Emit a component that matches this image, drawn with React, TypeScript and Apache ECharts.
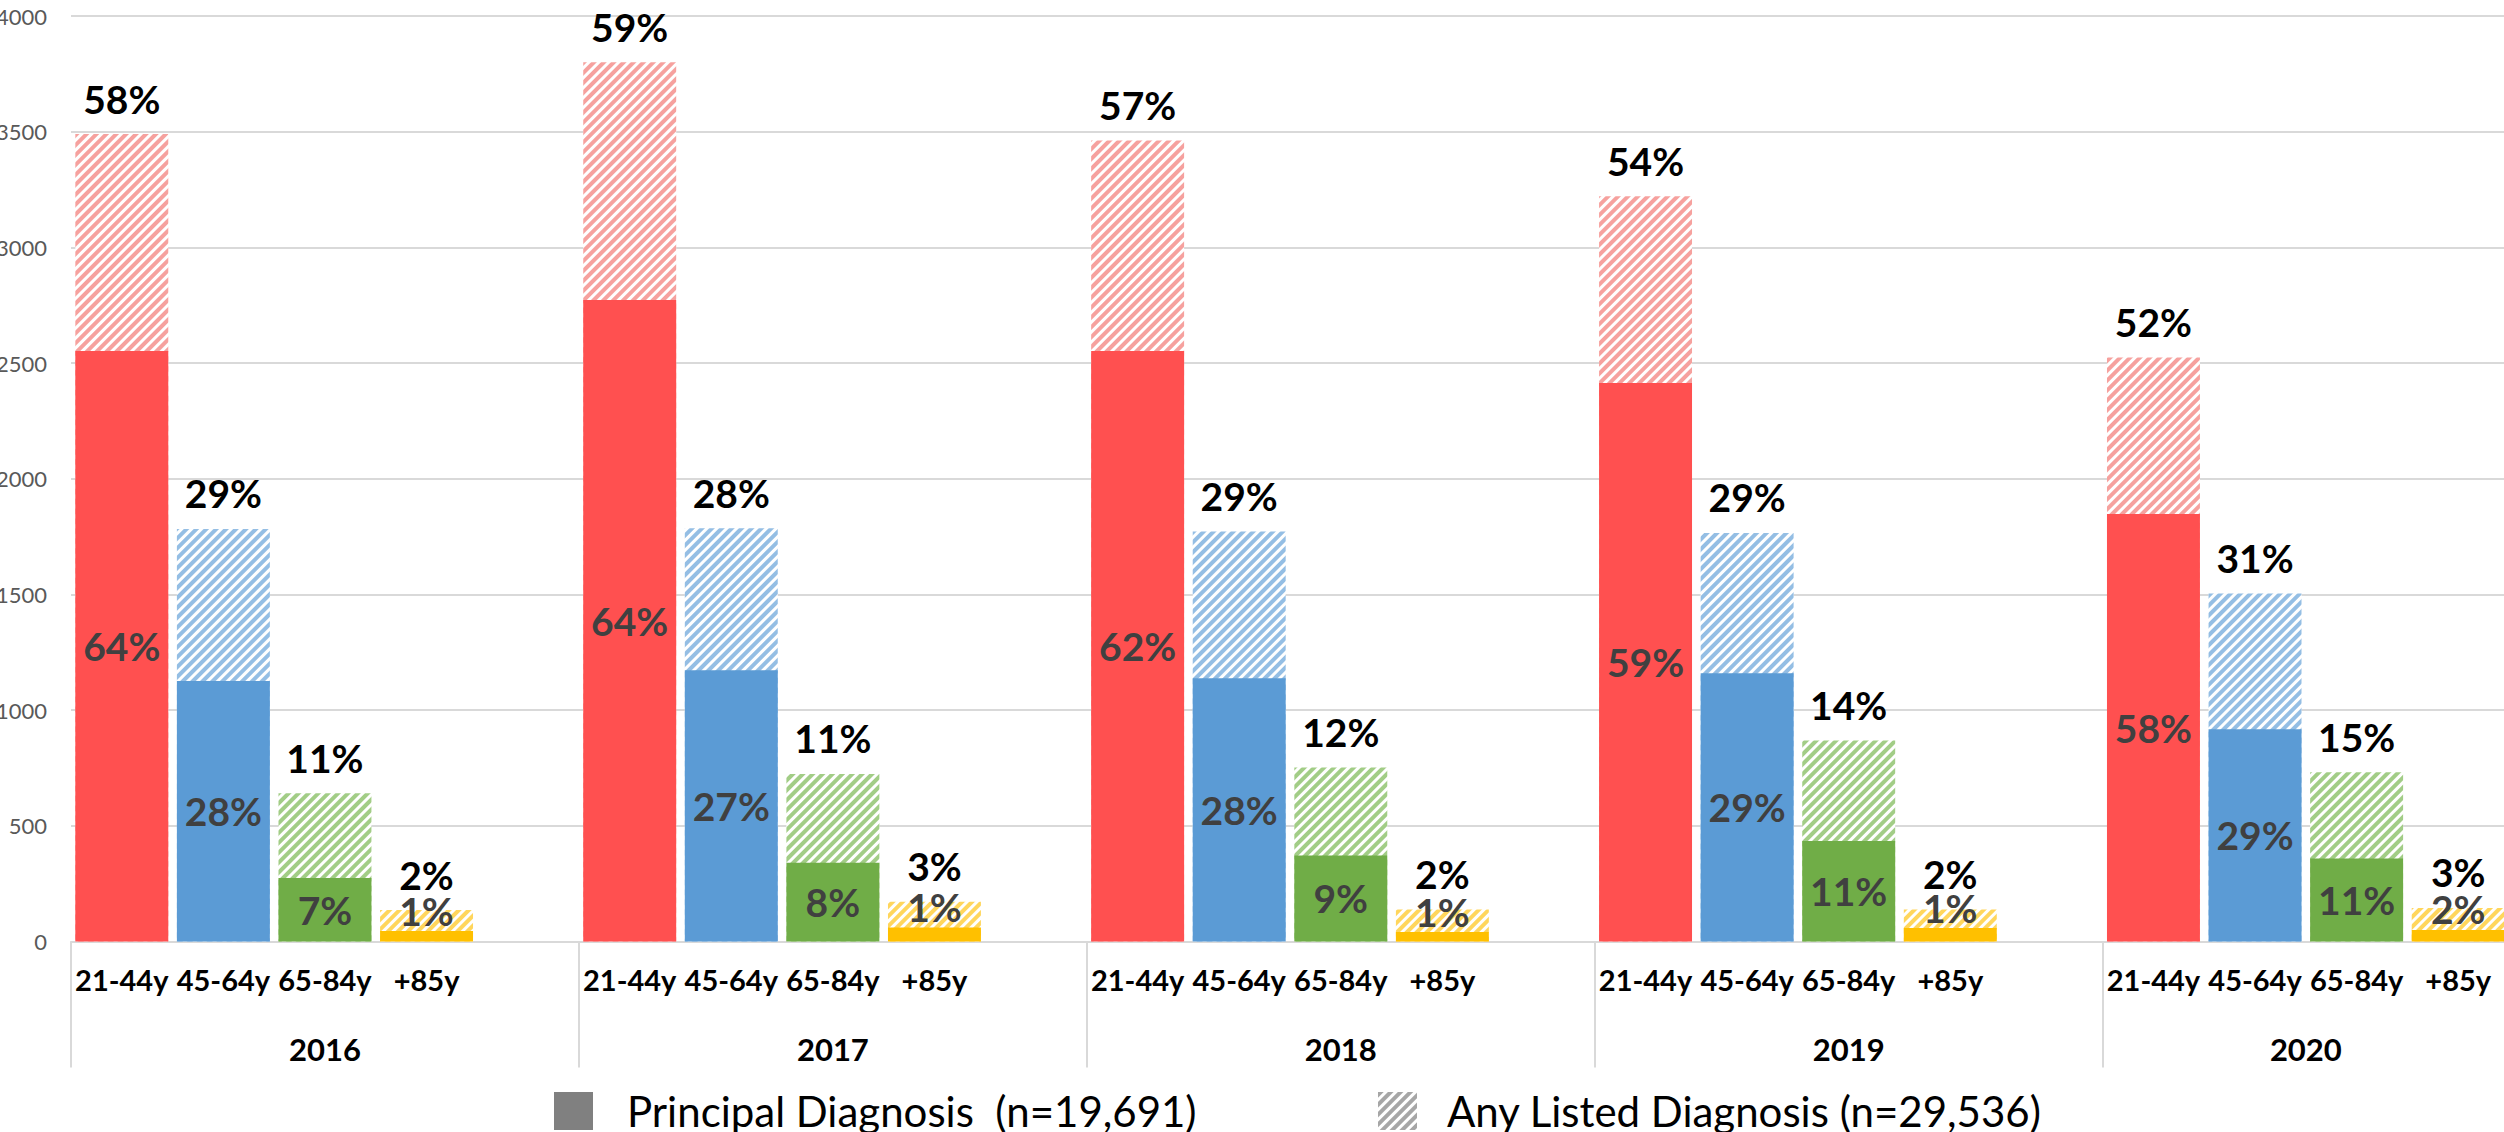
import React, { useEffect, useRef } from "react";
import * as echarts from "echarts";

const years = ["2016", "2017", "2018", "2019", "2020"];
const ages = ["21-44y", "45-64y", "65-84y", "+85y"];

// Principal diagnosis counts per year (ages order)
const principal2016 = [2552, 1126, 274, 45];
const principal2017 = [2773, 1172, 340, 60];
const principal2018 = [2552, 1138, 372, 41];
const principal2019 = [2414, 1159, 434, 58];
const principal2020 = [1848, 917, 359, 50];

// Any listed diagnosis counts per year
const any2016 = [3490, 1783, 641, 136];
const any2017 = [3800, 1786, 724, 172];
const any2018 = [3462, 1772, 752, 138];
const any2019 = [3221, 1766, 869, 138];
const any2020 = [2524, 1504, 731, 145];

// Percentage labels as printed
const principalPct2016 = ["64%", "28%", "7%", "1%"];
const principalPct2017 = ["64%", "27%", "8%", "1%"];
const principalPct2018 = ["62%", "28%", "9%", "1%"];
const principalPct2019 = ["59%", "29%", "11%", "1%"];
const principalPct2020 = ["58%", "29%", "11%", "2%"];

const anyPct2016 = ["58%", "29%", "11%", "2%"];
const anyPct2017 = ["59%", "28%", "11%", "3%"];
const anyPct2018 = ["57%", "29%", "12%", "2%"];
const anyPct2019 = ["54%", "29%", "14%", "2%"];
const anyPct2020 = ["52%", "31%", "15%", "3%"];

const yTicks = [0, 500, 1000, 1500, 2000, 2500, 3000, 3500, 4000];

const principalName = "Principal Diagnosis  (n=19,691)";
const anyName = "Any Listed Diagnosis (n=29,536)";

const solidColors = ["#FF5050", "#5B9BD5", "#70AD47", "#FFC000"];
const hatchColors = ["#F6A19E", "#94BEE4", "#A2CD86", "#FFD65C"];

const FONT = "Lato, 'Noto Sans', sans-serif";

function hatch(color: string) {
  return {
    symbol: "rect",
    symbolSize: 1,
    color,
    dashArrayX: [1, 0],
    dashArrayY: [3.2, 2.8],
    rotation: -Math.PI / 4,
  };
}

export default function App() {
  const ref = useRef<HTMLDivElement>(null);

  useEffect(() => {
    document.body.style.margin = "0";
    document.body.style.overflow = "hidden";
    if (!ref.current) return;
    const chart = echarts.init(ref.current, undefined, { renderer: "svg" });

    const principalAll = [principal2016, principal2017, principal2018, principal2019, principal2020];
    const anyAll = [any2016, any2017, any2018, any2019, any2020];
    const pPctAll = [principalPct2016, principalPct2017, principalPct2018, principalPct2019, principalPct2020];
    const aPctAll = [anyPct2016, anyPct2017, anyPct2018, anyPct2019, anyPct2020];

    const cats: string[] = [];
    const principalData: any[] = [];
    const anyData: any[] = [];
    years.forEach((y, yi) => {
      ages.forEach((a, ai) => {
        cats.push(a);
        principalData.push({
          value: principalAll[yi][ai],
          itemStyle: { color: solidColors[ai] },
          label:
            ai === 3
              ? { formatter: pPctAll[yi][ai], position: "top", distance: 1 }
              : { formatter: pPctAll[yi][ai] },
        });
        anyData.push({
          value: anyAll[yi][ai],
          itemStyle: { color: "#ffffff", decal: hatch(hatchColors[ai]) },
          label: { formatter: aPctAll[yi][ai] },
        });
      });
      if (yi < years.length - 1) {
        cats.push("");
        principalData.push(null);
        anyData.push(null);
      }
    });

    const n = cats.length;
    const yearCenters: number[] = [];
    let start = 0;
    years.forEach((y, yi) => {
      const w = yi < years.length - 1 ? 5 : 4;
      yearCenters.push(start + w / 2);
      start += w;
    });
    const yearOf = (v: number) => {
      const i = yearCenters.findIndex((c) => Math.abs(c - v) < 1e-6);
      return i >= 0 ? years[i] : "";
    };

    chart.setOption({
      animation: false,
      backgroundColor: "#ffffff",
      grid: {
        left: 71,
        right: -5,
        top: 16,
        bottom: 190.5,
        containLabel: false,
        outerBoundsMode: "none",
      },
      legend: [
        {
          left: 549,
          top: 1085,
          itemWidth: 39,
          itemHeight: 38,
          selectedMode: false,
          data: [{ name: principalName, icon: "rect", itemStyle: { color: "#808080" } }],
          textStyle: { fontFamily: FONT, fontSize: 42, color: "#000", padding: [0, 0, 10, 29] },
        },
        {
          left: 1373,
          top: 1085,
          itemWidth: 39,
          itemHeight: 38,
          selectedMode: false,
          data: [
            {
              name: anyName,
              icon: "rect",
              itemStyle: { color: "#ffffff", decal: hatch("#A6A6A6") },
            },
          ],
          textStyle: { fontFamily: FONT, fontSize: 42, color: "#000", padding: [0, 0, 10, 25] },
        },
      ],
      xAxis: [
        {
          type: "category",
          data: cats,
          axisLine: { show: true, lineStyle: { color: "#D9D9D9", width: 2 } },
          axisTick: {
            show: true,
            interval: (index: number) => index % 5 === 0,
            length: 126,
            lineStyle: { color: "#D9D9D9", width: 2 },
          },
          axisLabel: {
            interval: 0,
            margin: 23,
            fontFamily: FONT,
            fontSize: 29,
            fontWeight: "bold",
            color: "#000",
          },
        },
        {
          type: "value",
          position: "bottom",
          offset: 0,
          min: 0,
          max: n,
          interval: 0.5,
          axisLine: { show: false },
          axisTick: { show: false },
          splitLine: { show: false },
          axisLabel: {
            customValues: yearCenters,
            margin: 92,
            fontFamily: FONT,
            fontSize: 31,
            fontWeight: "bold",
            color: "#000",
            formatter: (v: number) => yearOf(v),
          },
        },
      ],
      yAxis: {
        type: "value",
        min: yTicks[0],
        max: yTicks[yTicks.length - 1],
        interval: 500,
        axisLine: { show: false },
        axisTick: { show: false },
        splitLine: { lineStyle: { color: "#D9D9D9", width: 2 } },
        axisLabel: {
          margin: 24,
          fontFamily: FONT,
          fontSize: 22,
          color: "#595959",
          formatter: (v: number) => String(v),
        },
      },
      series: [
        {
          name: anyName,
          type: "bar",
          barWidth: "91.5%",
          barGap: "-100%",
          itemStyle: { color: "#ffffff", decal: hatch("#A6A6A6") },
          data: anyData,
          z: 1,
          label: {
            show: true,
            position: "top",
            distance: 16,
            fontFamily: FONT,
            fontSize: 39,
            fontWeight: "bold",
            color: "#000",
          },
        },
        {
          name: principalName,
          type: "bar",
          barWidth: "91.5%",
          barGap: "-100%",
          itemStyle: { color: "#808080" },
          data: principalData,
          z: 2,
          label: {
            show: true,
            position: "inside",
            fontFamily: FONT,
            fontSize: 39,
            fontWeight: "bold",
            color: "#404040",
          },
        },
      ],
    });

    return () => chart.dispose();
  }, []);

  return <div ref={ref} style={{ width: 2504, height: 1132, overflow: "hidden" }} />;
}
